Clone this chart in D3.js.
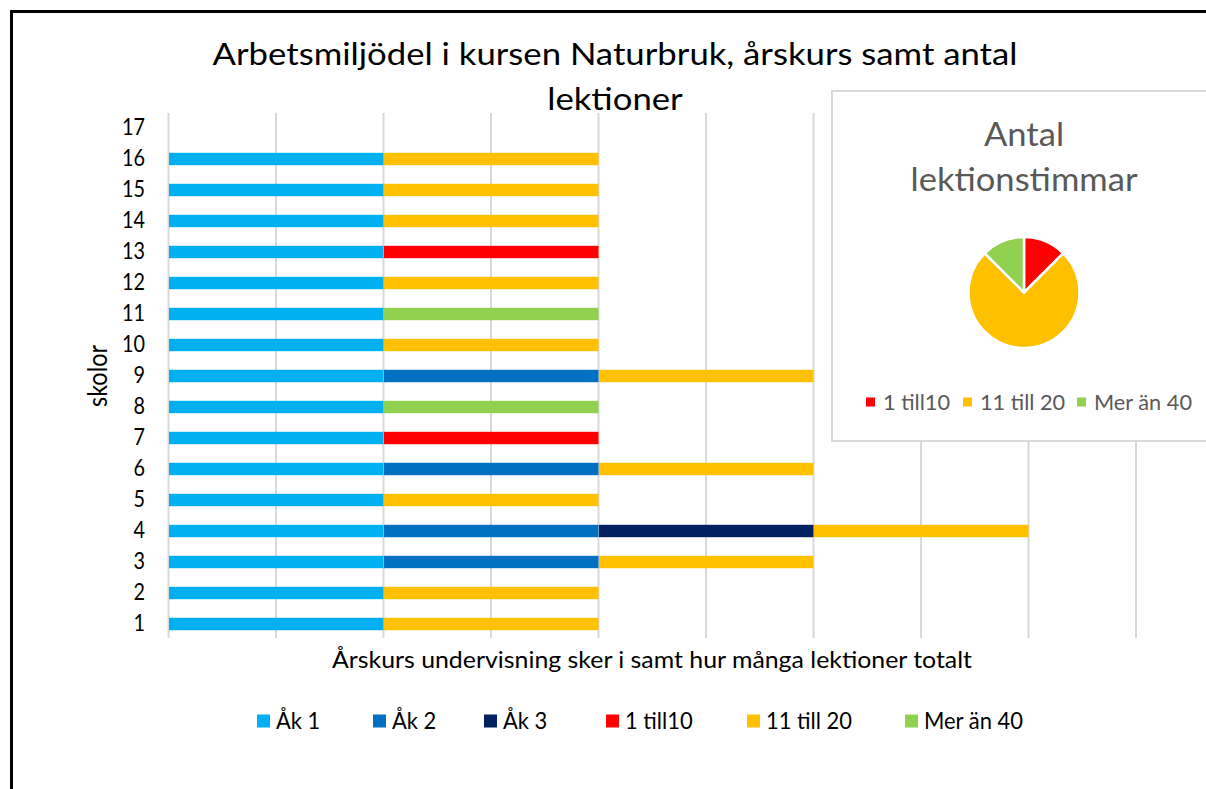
<!DOCTYPE html>
<html><head><meta charset="utf-8">
<script src="https://cdn.jsdelivr.net/npm/d3@7"></script>
<style>body{margin:0;background:#fff} svg{display:block} text{font-family:Lato,"Open Sans",sans-serif}</style>
</head><body><svg id="c" width="1206" height="789"></svg>
<script>
// ---- data ----
const schools = ["1","2","3","4","5","6","7","8","9","10","11","12","13","14","15","16","17"];
const ak1     = [1,1,1,1,1,1,1,1,1,1,1,1,1,1,1,1,0];
const ak2     = [0,0,1,1,0,1,0,0,1,0,0,0,0,0,0,0,0];
const ak3     = [0,0,0,1,0,0,0,0,0,0,0,0,0,0,0,0,0];
const till10  = [0,0,0,0,0,0,1,0,0,0,0,0,1,0,0,0,0];
const till20  = [1,1,1,1,1,1,0,0,1,1,0,1,0,1,1,1,0];
const mer40   = [0,0,0,0,0,0,0,1,0,0,1,0,0,0,0,0,0];
const seriesNames  = ["Åk 1","Åk 2","Åk 3","1 till10","11 till 20","Mer än 40"];
const seriesColors = ["#00B0F0","#0070C0","#002060","#FF0000","#FFC000","#92D050"];
const xTicks = [0,0.5,1,1.5,2,2.5,3,3.5,4,4.5];
const pieNames  = ["1 till10","11 till 20","Mer än 40"];
const pieValues = [2,12,2];
const pieColors = ["#FF0000","#FFC000","#92D050"];
const titleLines = ["Arbetsmiljödel i kursen Naturbruk, årskurs samt antal","lektioner"];
const xTitle = "Årskurs undervisning sker i samt hur många lektioner totalt";
const yTitle = "skolor";
const pieTitle = ["Antal","lektionstimmar"];

// ---- helpers ----
const svg = d3.select("#c");
const CAP = 0.72;
// set font size from cap height, then squeeze widths so that reference text gets target width
function styleGroup(sel, cap, refSel, target){
  sel.attr("font-size", cap/CAP);
  const k = target / refSel.node().getComputedTextLength();
  sel.each(function(){
    const L = this.getComputedTextLength();
    d3.select(this).attr("textLength", L*k).attr("lengthAdjust","spacingAndGlyphs");
  });
}

// frame
svg.append("rect").attr("x",11.5).attr("y",11.5).attr("width",1300).attr("height",900)
  .attr("fill","#fff").attr("stroke","#000").attr("stroke-width",3);

// scales
const rows = schools.map((s,i)=>({school:s,"Åk 1":ak1[i],"Åk 2":ak2[i],"Åk 3":ak3[i],
  "1 till10":till10[i],"11 till 20":till20[i],"Mer än 40":mer40[i]}));
const x = d3.scaleLinear().domain([0,4.5]).range([168,1135.5]);
const y = d3.scaleBand().domain(schools).range([639.5,112.5]).paddingInner(0.6).paddingOuter(0.3);
const color = d3.scaleOrdinal().domain(seriesNames).range(seriesColors);

// gridlines
const gx = svg.append("g").attr("transform","translate(0,638)")
  .call(d3.axisBottom(x).tickValues(xTicks).tickSize(-(638-113)).tickFormat(""));
gx.select(".domain").remove();
gx.selectAll("line").attr("stroke","#d9d9d9").attr("stroke-width",2);

// bars
const stacked = d3.stack().keys(seriesNames)(rows);
svg.append("g").selectAll("g").data(stacked).join("g").attr("fill",d=>color(d.key))
  .selectAll("rect").data(d=>d.filter(v=>v[1]-v[0]>0)).join("rect")
  .attr("x",d=>x(d[0])+1).attr("width",d=>x(d[1])-x(d[0])-0.5)
  .attr("y",d=>y(d.data.school)).attr("height",y.bandwidth());

// y axis
const gy = svg.append("g").attr("transform","translate(168,0)")
  .call(d3.axisLeft(y).tickSize(0).tickPadding(23));
gy.select(".domain").remove();
gy.selectAll("text").attr("font-family","Lato").attr("fill","#000");
styleGroup(gy.selectAll("text"), 16.5, gy.selectAll("text").filter(d=>d==="10"), 23);

// title
const t1 = svg.append("text").attr("x",615).attr("y",65).attr("text-anchor","middle")
  .attr("fill","#000").text(titleLines[0]);
const t2 = svg.append("text").attr("x",615).attr("y",110).attr("text-anchor","middle")
  .attr("fill","#000").text(titleLines[1]);
styleGroup(d3.selectAll([t1.node(),t2.node()]), 22, t1, 805);

// axis titles
const xt = svg.append("text").attr("x",652).attr("y",668).attr("text-anchor","middle")
  .attr("fill","#000").text(xTitle);
styleGroup(xt, 16, xt, 640);
const yt = svg.append("text").attr("transform","translate(107,376) rotate(-90)").attr("text-anchor","middle")
  .attr("fill","#000").text(yTitle);
styleGroup(yt, 19, yt, 62);

// bottom legend
const legX = [257,373,484,606,747,905];
const legItems = svg.append("g").selectAll("g").data(seriesNames).join("g")
  .attr("transform",(d,i)=>`translate(${legX[i]},721)`);
legItems.append("rect").attr("x",0).attr("y",-6.5).attr("width",13).attr("height",13).attr("fill",d=>color(d));
legItems.append("text").attr("x",19).attr("y",7.5).attr("fill","#000").text(d=>d);
styleGroup(legItems.selectAll("text"), 16, legItems.filter(d=>d==="Mer än 40").select("text"), 99);

// pie box
svg.append("rect").attr("x",832).attr("y",91).attr("width",400).attr("height",350)
  .attr("fill","#fff").attr("stroke","#d9d9d9").attr("stroke-width",2);
const pt1 = svg.append("text").attr("x",1024).attr("y",146).attr("text-anchor","middle")
  .attr("fill","#595959").text(pieTitle[0]);
const pt2 = svg.append("text").attr("x",1024).attr("y",191).attr("text-anchor","middle")
  .attr("fill","#595959").text(pieTitle[1]);
styleGroup(d3.selectAll([pt1.node(),pt2.node()]), 23, pt2, 227);

const pieData = d3.pie().sort(null).value(d=>d.v)(pieNames.map((n,i)=>({n,v:pieValues[i],c:pieColors[i]})));
const arc = d3.arc().innerRadius(0).outerRadius(55.5);
svg.append("g").attr("transform","translate(1024,292.5)").selectAll("path").data(pieData).join("path")
  .attr("d",arc).attr("fill",d=>d.data.c).attr("stroke","#fff").attr("stroke-width",2.5).attr("stroke-linejoin","round");

const pleX = [866,963,1077];
const ple = svg.append("g").selectAll("g").data(pieNames).join("g")
  .attr("transform",(d,i)=>`translate(${pleX[i]},402)`);
ple.append("rect").attr("x",0).attr("y",-4.5).attr("width",9).attr("height",9).attr("fill",(d,i)=>pieColors[i]);
ple.append("text").attr("x",17).attr("y",7.5).attr("fill","#595959").text(d=>d);
styleGroup(ple.selectAll("text"), 15, ple.filter(d=>d==="Mer än 40").select("text"), 98);
</script></body></html>
